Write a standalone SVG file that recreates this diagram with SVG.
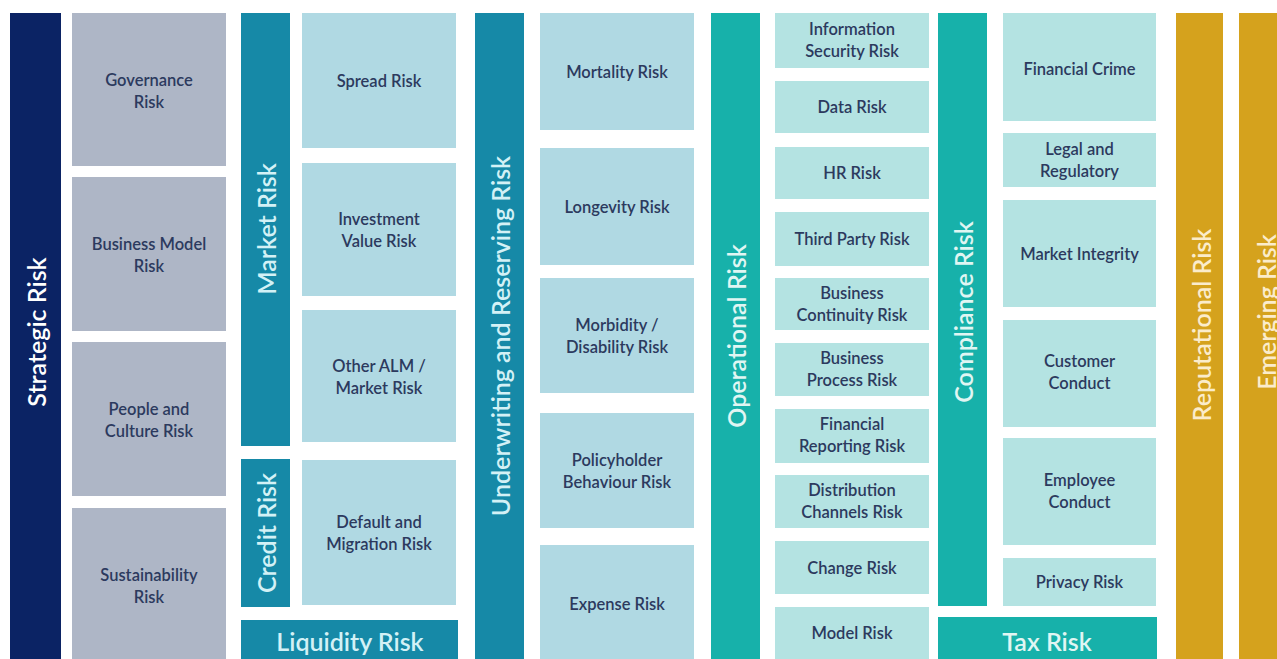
<svg xmlns="http://www.w3.org/2000/svg" width="1277" height="659" viewBox="0 0 1277 659">
<style>
.bg{fill:#ffffff}
.strat{fill:#0b2364}
.grey{fill:#aeb6c6}
.mkt{fill:#1689a7}
.lblue{fill:#b0d9e3}
.ops{fill:#17b1aa}
.lteal{fill:#b4e3e2}
.gold{fill:#d5a21d}
text{font-family:Lato,"Open Sans","Liberation Sans",sans-serif;font-weight:600}
.sub{font-size:16.5px;fill:#2c3a5e;text-anchor:middle}
.vw{font-size:25px;fill:#ffffff;text-anchor:middle;dominant-baseline:central}
.vb{font-size:25px;fill:#d3f1f6;text-anchor:middle;dominant-baseline:central}
.vt{font-size:25px;fill:#e0f6f3;text-anchor:middle;dominant-baseline:central}
.vg{font-size:25px;fill:#fbeccb;text-anchor:middle;dominant-baseline:central}
</style>
<rect class="bg" x="0" y="0" width="1277" height="659"/>

<g id="strategic-risk"><rect class="strat" x="10" y="13" width="51" height="660"/><text class="vw" transform="translate(36,332) rotate(-90)">Strategic Risk</text></g>
<g id="governance-risk"><rect class="grey" x="72" y="13" width="154" height="153"/><text class="sub" x="149" y="86">Governance<tspan x="149" dy="22">Risk</tspan></text></g>
<g id="business-model-risk"><rect class="grey" x="72" y="177" width="154" height="154"/><text class="sub" x="149" y="250">Business Model<tspan x="149" dy="22">Risk</tspan></text></g>
<g id="people-culture-risk"><rect class="grey" x="72" y="342" width="154" height="154"/><text class="sub" x="149" y="415">People and<tspan x="149" dy="22">Culture Risk</tspan></text></g>
<g id="sustainability-risk"><rect class="grey" x="72" y="508" width="154" height="160"/><text class="sub" x="149" y="581">Sustainability<tspan x="149" dy="22">Risk</tspan></text></g>

<g id="market-risk"><rect class="mkt" x="241" y="13" width="49" height="433"/><text class="vb" transform="translate(266,229) rotate(-90)">Market Risk</text></g>
<g id="credit-risk"><rect class="mkt" x="241" y="459" width="49" height="148"/><text class="vb" transform="translate(266,533) rotate(-90)">Credit Risk</text></g>
<g id="liquidity-risk"><rect class="mkt" x="241" y="620" width="217" height="50"/><text class="vb" x="350" y="641">Liquidity Risk</text></g>
<g id="spread-risk"><rect class="lblue" x="302" y="13" width="154" height="135"/><text class="sub" x="379" y="87">Spread Risk</text></g>
<g id="investment-value-risk"><rect class="lblue" x="302" y="163" width="154" height="133"/><text class="sub" x="379" y="225">Investment<tspan x="379" dy="22">Value Risk</tspan></text></g>
<g id="other-alm-risk"><rect class="lblue" x="302" y="310" width="154" height="132"/><text class="sub" x="379" y="372">Other ALM /<tspan x="379" dy="22">Market Risk</tspan></text></g>
<g id="default-migration-risk"><rect class="lblue" x="302" y="460" width="154" height="145"/><text class="sub" x="379" y="528">Default and<tspan x="379" dy="22">Migration Risk</tspan></text></g>

<g id="underwriting-reserving-risk"><rect class="mkt" x="475" y="13" width="49" height="660"/><text class="vb" transform="translate(500,336) rotate(-90)">Underwriting and Reserving Risk</text></g>
<g id="mortality-risk"><rect class="lblue" x="540" y="13" width="154" height="117"/><text class="sub" x="617" y="78">Mortality Risk</text></g>
<g id="longevity-risk"><rect class="lblue" x="540" y="148" width="154" height="117"/><text class="sub" x="617" y="213">Longevity Risk</text></g>
<g id="morbidity-risk"><rect class="lblue" x="540" y="278" width="154" height="115"/><text class="sub" x="617" y="331">Morbidity /<tspan x="617" dy="22">Disability Risk</tspan></text></g>
<g id="policyholder-risk"><rect class="lblue" x="540" y="413" width="154" height="115"/><text class="sub" x="617" y="466">Policyholder<tspan x="617" dy="22">Behaviour Risk</tspan></text></g>
<g id="expense-risk"><rect class="lblue" x="540" y="545" width="154" height="125"/><text class="sub" x="617" y="610">Expense Risk</text></g>

<g id="operational-risk"><rect class="ops" x="711" y="13" width="49" height="660"/><text class="vt" transform="translate(736,336) rotate(-90)">Operational Risk</text></g>
<g id="information-security-risk"><rect class="lteal" x="775" y="13" width="154" height="55"/><text class="sub" x="852" y="35">Information<tspan x="852" dy="22">Security Risk</tspan></text></g>
<g id="data-risk"><rect class="lteal" x="775" y="81" width="154" height="52"/><text class="sub" x="852" y="113">Data Risk</text></g>
<g id="hr-risk"><rect class="lteal" x="775" y="147" width="154" height="52"/><text class="sub" x="852" y="179">HR Risk</text></g>
<g id="third-party-risk"><rect class="lteal" x="775" y="212" width="154" height="54"/><text class="sub" x="852" y="245">Third Party Risk</text></g>
<g id="business-continuity-risk"><rect class="lteal" x="775" y="278" width="154" height="52"/><text class="sub" x="852" y="299">Business<tspan x="852" dy="22">Continuity Risk</tspan></text></g>
<g id="business-process-risk"><rect class="lteal" x="775" y="343" width="154" height="53"/><text class="sub" x="852" y="364">Business<tspan x="852" dy="22">Process Risk</tspan></text></g>
<g id="financial-reporting-risk"><rect class="lteal" x="775" y="409" width="154" height="54"/><text class="sub" x="852" y="430">Financial<tspan x="852" dy="22">Reporting Risk</tspan></text></g>
<g id="distribution-channels-risk"><rect class="lteal" x="775" y="475" width="154" height="53"/><text class="sub" x="852" y="496">Distribution<tspan x="852" dy="22">Channels Risk</tspan></text></g>
<g id="change-risk"><rect class="lteal" x="775" y="541" width="154" height="53"/><text class="sub" x="852" y="574">Change Risk</text></g>
<g id="model-risk"><rect class="lteal" x="775" y="607" width="154" height="60"/><text class="sub" x="852" y="639">Model Risk</text></g>

<g id="compliance-risk"><rect class="ops" x="938" y="13" width="49" height="593"/><text class="vt" transform="translate(963,312) rotate(-90)">Compliance Risk</text></g>
<g id="tax-risk"><rect class="ops" x="938" y="617" width="219" height="50"/><text class="vt" x="1047" y="641">Tax Risk</text></g>
<g id="financial-crime"><rect class="lteal" x="1003" y="13" width="153" height="108"/><text class="sub" x="1079.5" y="75">Financial Crime</text></g>
<g id="legal-regulatory"><rect class="lteal" x="1003" y="133" width="153" height="54"/><text class="sub" x="1079.5" y="155">Legal and<tspan x="1079.5" dy="22">Regulatory</tspan></text></g>
<g id="market-integrity"><rect class="lteal" x="1003" y="200" width="153" height="107"/><text class="sub" x="1079.5" y="260">Market Integrity</text></g>
<g id="customer-conduct"><rect class="lteal" x="1003" y="320" width="153" height="107"/><text class="sub" x="1079.5" y="367">Customer<tspan x="1079.5" dy="22">Conduct</tspan></text></g>
<g id="employee-conduct"><rect class="lteal" x="1003" y="438" width="153" height="107"/><text class="sub" x="1079.5" y="486">Employee<tspan x="1079.5" dy="22">Conduct</tspan></text></g>
<g id="privacy-risk"><rect class="lteal" x="1003" y="558" width="153" height="48"/><text class="sub" x="1079.5" y="588">Privacy Risk</text></g>

<g id="reputational-risk"><rect class="gold" x="1176" y="13" width="47" height="660"/><text class="vg" transform="translate(1201,325) rotate(-90)">Reputational Risk</text></g>
<g id="emerging-risk"><rect class="gold" x="1239" y="13" width="50" height="660"/><text class="vg" transform="translate(1266,312) rotate(-90)">Emerging Risk</text></g>

<g id="connectors"></g>
</svg>
